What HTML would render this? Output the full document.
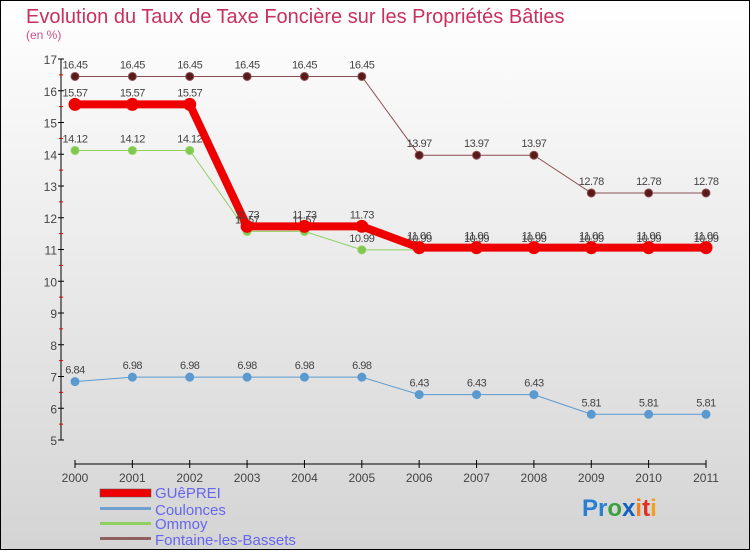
<!DOCTYPE html>
<html><head><meta charset="utf-8"><style>
body{margin:0}
svg text{font-family:"Liberation Sans",sans-serif}
</style></head><body>
<svg id="c" width="750" height="550" xmlns="http://www.w3.org/2000/svg">
<defs><linearGradient id="bg" x1="0" y1="0" x2="0" y2="1"><stop offset="0" stop-color="#ffffff"/><stop offset="1" stop-color="#d4d4d4"/></linearGradient></defs>
<rect x="0.5" y="0.5" width="749" height="549" fill="url(#bg)" stroke="#000"/>
<text x="26" y="23" font-size="20" fill="#c8305e">Evolution du Taux de Taxe Foncière sur les Propriétés Bâties</text>
<text x="26" y="39" font-size="12" fill="#c8508a">(en %)</text>
<g id="axes"></g><g id="series"></g>
<g>
<rect x="100" y="489" width="51" height="8" fill="#e00" stroke="#555" stroke-width="0.5"/>
<text x="155" y="498" font-size="15" fill="#6666ee">GUêPREI</text>
<rect x="100" y="507" width="51" height="3" fill="#6fa0d0"/>
<text x="155" y="515" font-size="15" fill="#6666ee">Coulonces</text>
<rect x="100" y="522" width="51" height="3" fill="#90d060"/>
<text x="155" y="529" font-size="15" fill="#6666ee">Ommoy</text>
<rect x="100" y="537" width="51" height="3" fill="#906060"/>
<text x="155" y="545" font-size="15" fill="#6666ee">Fontaine-les-Bassets</text>
</g>
<text x="582" y="516" font-size="24" font-weight="bold"><tspan fill="#2a7fd0">Pr</tspan><tspan fill="#3aa040">o</tspan><tspan fill="#1060c0">x</tspan><tspan fill="#f08020">i</tspan><tspan fill="#e03020">t</tspan><tspan fill="#f0a020">i</tspan></text>
</svg>
<script>
const years=["2000","2001","2002","2003","2004","2005","2006","2007","2008","2009","2010","2011"];
const yTicks=[5,6,7,8,9,10,11,12,13,14,15,16,17];
const guepreil=[15.57,15.57,15.57,11.73,11.73,11.73,11.06,11.06,11.06,11.06,11.06,11.06];
const coulonces=[6.84,6.98,6.98,6.98,6.98,6.98,6.43,6.43,6.43,5.81,5.81,5.81];
const ommoy=[14.12,14.12,14.12,11.57,11.57,10.99,10.99,10.99,10.99,10.99,10.99,10.99];
const fontaine=[16.45,16.45,16.45,16.45,16.45,16.45,13.97,13.97,13.97,12.78,12.78,12.78];
const NS="http://www.w3.org/2000/svg";
const X=i=>75+i*(706-75)/11, Y=v=>440-(v-5)*(440-59)/12;
function mk(p,t,a){const e=document.createElementNS(NS,t);for(const k in a)e.setAttribute(k,a[k]);p.appendChild(e);return e;}
const ax=document.getElementById('axes');
let l=mk(ax,'line',{x1:61,y1:59,x2:61,y2:440,stroke:'#000'});


l=mk(ax,'line',{x1:75,y1:464,x2:706,y2:464,stroke:'#000'});


yTicks.forEach((v,i)=>{mk(ax,'line',{x1:58,y1:Y(v),x2:64,y2:Y(v),stroke:'#000'});
 if(i<yTicks.length-1)mk(ax,'line',{x1:59,y1:Y(v+0.5),x2:63,y2:Y(v+0.5),stroke:'#e00'});
 const t=mk(ax,'text',{x:57,y:Y(v)+5,'font-size':12,fill:'#444','text-anchor':'end'});t.textContent=v;
 
 });
years.forEach((y,i)=>{mk(ax,'line',{x1:X(i),y1:460,x2:X(i),y2:468,stroke:'#000'});
 const t=mk(ax,'text',{x:X(i),y:482,'font-size':12,fill:'#444','text-anchor':'middle'});t.textContent=y;
 
 });
const sg=document.getElementById('series');
function series(name,d,color,w,r,fill){
 const g=mk(sg,'g',{});
 
 
 mk(g,'polyline',{points:d.map((v,i)=>X(i)+','+Y(v)).join(' '),fill:'none',stroke:color,'stroke-width':w});
 d.forEach((v,i)=>{const c=mk(g,'circle',{cx:X(i),cy:Y(v),r:r,fill:fill,stroke:color,'stroke-width':1});
  
  
  const t=mk(g,'text',{x:X(i),y:Y(v)-8,'font-size':11,fill:'#444','text-anchor':'middle','letter-spacing':'-0.5'});t.textContent=v;
  
  });
}
series('fontaine',fontaine,'#8a5050',1,4,'#5a1a1a');
series('coulonces',coulonces,'#5a9ad0',1,4,'#5a9ad0');
series('ommoy',ommoy,'#90d060',1,4,'#80c850');
series('guepreil',guepreil,'#ee0000',8,6,'#ee0000');
</script>
</body></html>
